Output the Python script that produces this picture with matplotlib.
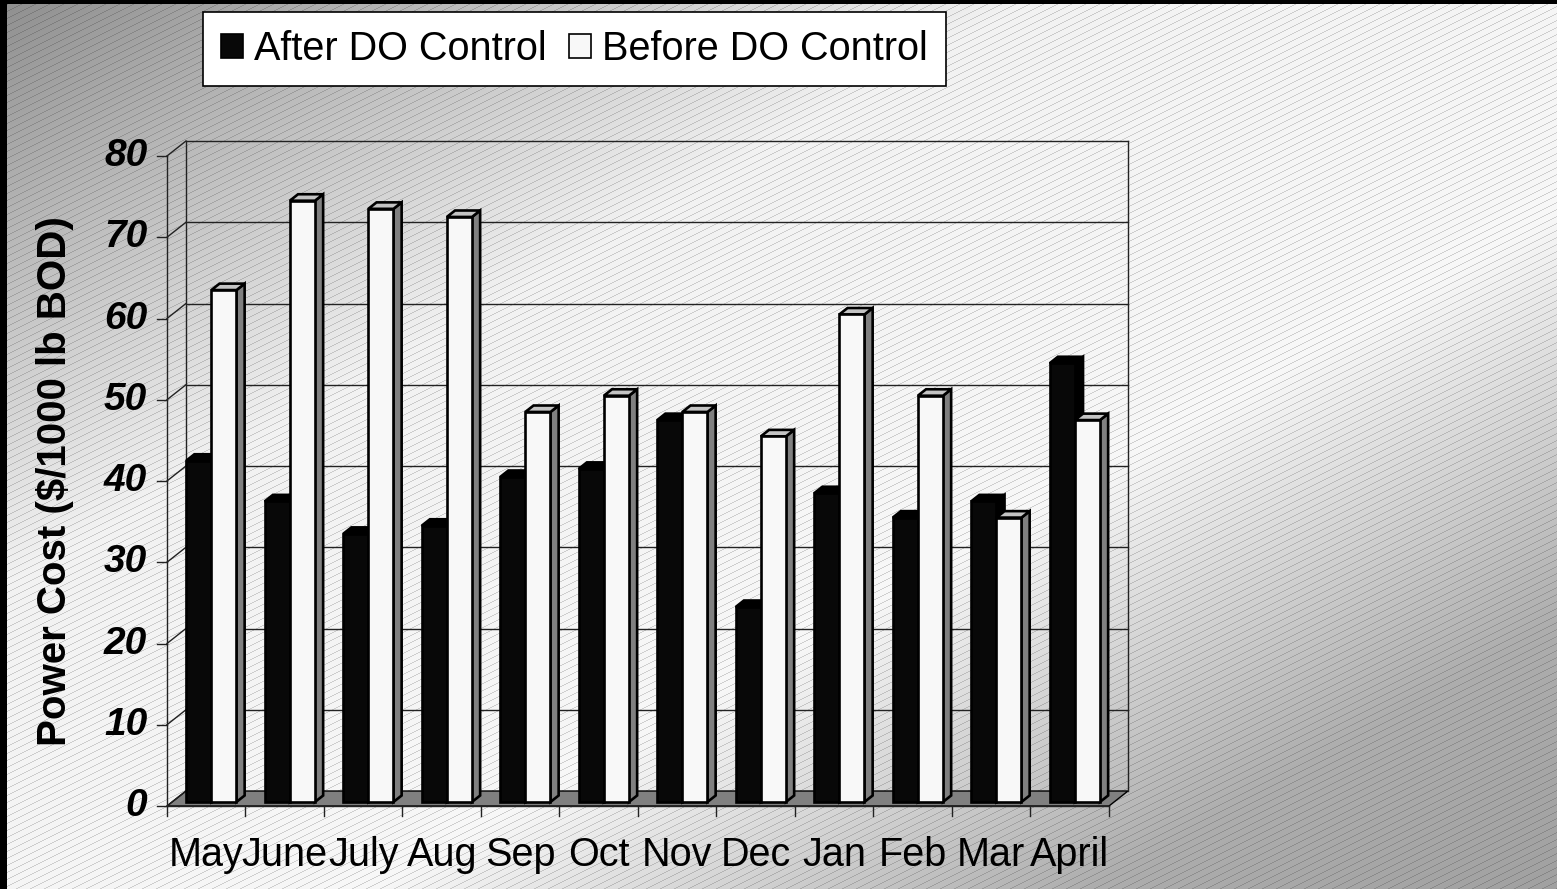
import numpy as np
import matplotlib.pyplot as plt
from matplotlib.patches import Polygon, Rectangle

plt.rcParams['font.family'] = ['Liberation Sans', 'DejaVu Sans']

# monthly power cost, $/1000 lb BOD
months = ['May', 'June', 'July', 'Aug', 'Sep', 'Oct', 'Nov', 'Dec', 'Jan', 'Feb', 'Mar', 'April']
after_do = [42, 37, 33, 34, 40, 41, 47, 24, 38, 35, 37, 54]
before_do = [63, 74, 73, 72, 48, 50, 48, 45, 60, 50, 35, 47]
y_ticks = [0, 10, 20, 30, 40, 50, 60, 70, 80]

W, H = 1557, 889
fig = plt.figure(figsize=(W / 100, H / 100), dpi=100)
ax = fig.add_axes([0, 0, 1, 1])
ax.set_axis_off()

# axes limits chosen so the front plane sits where the chart frame goes
xlim = (-2.127, 17.707)
ylim = (-10.215, 99.2)

# background: diagonal grey-white-grey gradient with thin slanted stripes
yy, xx = np.mgrid[0:H, 0:W]
t = 0.5 * xx / W + 0.5 * yy / H
level = np.interp(t, [0, 0.33, 0.62, 0.85, 1.0], [0.56, 0.95, 0.97, 0.68, 0.63])
stripe = ((yy + 0.5 * xx) % 7) < 1.0
level = np.where(stripe, level * 0.84, level)
img = np.dstack([level] * 3)
ax.imshow(img, extent=(xlim[0], xlim[1], ylim[0], ylim[1]), aspect='auto',
          interpolation='nearest', zorder=0)

ax.set_xlim(*xlim)
ax.set_ylim(*ylim)

n = len(months)
DX, DY = 0.242, 1.846   # depth of the 3d box in (category, value) units
ymax = y_ticks[-1]


def proj(x, y, d):
    return (x + d * DX, y + d * DY)


# floor
ax.add_patch(Polygon([proj(0, 0, 0), proj(n, 0, 0), proj(n, 0, 1), proj(0, 0, 1)],
                     closed=True, facecolor='#808080', edgecolor='black', lw=1.0, zorder=1))

# back wall gridlines and side wall lines
for v in y_ticks:
    if v > 0:
        xs, ys = zip(proj(0, v, 1), proj(n, v, 1))
        ax.plot(xs, ys, color='#222222', lw=1.0, zorder=1)
    xs, ys = zip(proj(0, v, 0), proj(0, v, 1))
    ax.plot(xs, ys, color='#222222', lw=1.0, zorder=1)
    ax.plot([-0.127, 0], [v, v], color='#222222', lw=1.0, zorder=1)
    ax.text(-0.25, v, str(v), ha='right', va='center', fontsize=28,
            fontweight='bold', fontstyle='italic', zorder=5)

for x in (0, n):
    xs, ys = zip(proj(x, 0, 1), proj(x, ymax, 1))
    ax.plot(xs, ys, color='#222222', lw=1.0, zorder=1)
ax.plot([0, 0], [0, ymax], color='#222222', lw=1.0, zorder=1)
ax.plot([0, n], [0, 0], color='#222222', lw=1.0, zorder=1)

# category ticks and labels
for i in range(n + 1):
    ax.plot([i, i], [0, -1.23], color='#222222', lw=1.0, zorder=1)
for i, m in enumerate(months):
    ax.text(i + 0.5, -7.4, m, ha='center', va='baseline', fontsize=28.5, zorder=5)

# 3d bars
f0, f1 = 0.27, 0.70
bar_w = 0.32


def draw_bar(x0, v, front, top, side):
    x1 = x0 + bar_w
    kw = dict(closed=True, edgecolor='black', lw=1.9, joinstyle='miter', zorder=3)
    ax.add_patch(Polygon([proj(x1, 0, f0), proj(x1, v, f0), proj(x1, v, f1), proj(x1, 0, f1)],
                         facecolor=side, **kw))
    ax.add_patch(Polygon([proj(x0, v, f0), proj(x1, v, f0), proj(x1, v, f1), proj(x0, v, f1)],
                         facecolor=top, **kw))
    ax.add_patch(Polygon([proj(x0, 0, f0), proj(x1, 0, f0), proj(x1, v, f0), proj(x0, v, f0)],
                         facecolor=front, **kw))


for i in range(n):
    left = i + 0.5 - bar_w
    draw_bar(left, after_do[i], '#080808', '#000000', '#000000')
    draw_bar(left + bar_w, before_do[i], '#f8f8f8', '#c4c4c4', '#808080')

# y axis title
fig.text(55 / W, 1 - 481 / H, 'Power Cost ($/1000 lb BOD)', rotation=90,
         ha='center', va='center', fontsize=29, fontweight='bold')

# legend
handles = [Rectangle((0, 0), 1, 1, facecolor='#080808', edgecolor='black', lw=1.2),
           Rectangle((0, 0), 1, 1, facecolor='#f8f8f8', edgecolor='black', lw=1.2)]
leg = ax.legend(handles, ['After DO Control', 'Before DO Control'], ncol=2,
                loc='upper left', bbox_to_anchor=(203 / W, 1 - 12 / H),
                bbox_transform=fig.transFigure, borderaxespad=0, fontsize=28.5,
                handlelength=0.55, handleheight=0.55, handletextpad=0.3,
                columnspacing=0.55, borderpad=0.45, fancybox=False, framealpha=1,
                edgecolor='black', facecolor='white')
leg.get_frame().set_linewidth(1.2)

# dark border along the left and top edges
fig.patches.append(Rectangle((0, 0), 7 / W, 1, transform=fig.transFigure,
                             facecolor='black', edgecolor='none', zorder=10))
fig.patches.append(Rectangle((0, 1 - 4 / H), 1, 4 / H, transform=fig.transFigure,
                             facecolor='black', edgecolor='none', zorder=10))

fig.savefig('out.png', dpi=100)
